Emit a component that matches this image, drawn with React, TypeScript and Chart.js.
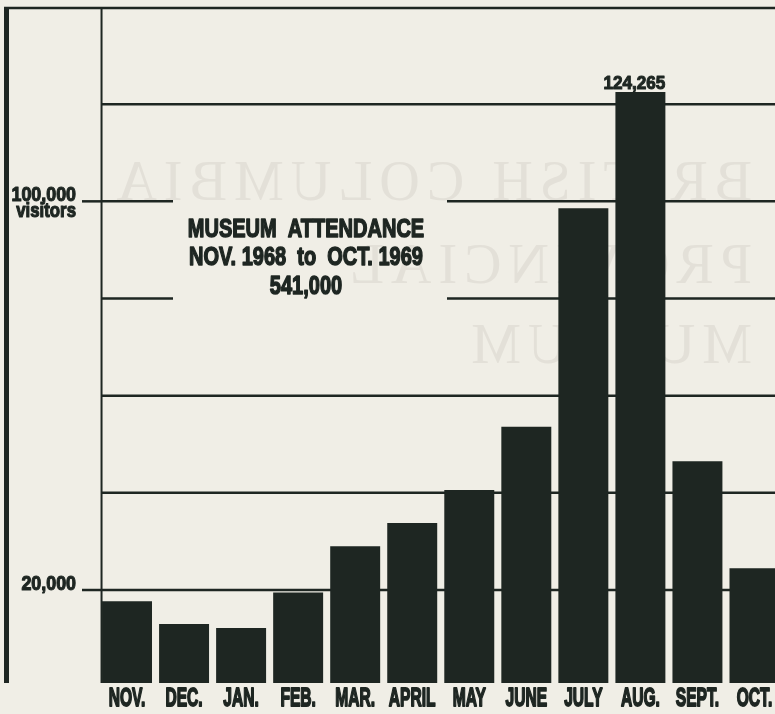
import { useEffect, useRef } from 'react';
import { Chart, registerables } from 'chart.js';

Chart.register(...registerables);

// ---------- data ----------
const months = ['NOV.', 'DEC.', 'JAN.', 'FEB.', 'MAR.', 'APRIL', 'MAY', 'JUNE', 'JULY', 'AUG.', 'SEPT.', 'OCT.'];
const visitors = [17700, 13000, 12200, 19500, 29000, 33800, 40600, 53600, 98600, 122500, 46500, 24500];
const gridValues = [20000, 40000, 60000, 80000, 100000, 120000, 140000];
const labeledTicks = [20000, 100000];
const tickLabels = [['20,000'], ['100,000', 'visitors']];
const titleGapValues = [80000, 100000];
const peakIndex = 9;
const peakLabel = '124,265';
const titleLines = ['MUSEUM  ATTENDANCE', 'NOV. 1968  to  OCT. 1969', '541,000'];
const ghostLines = ['BRITISH COLUMBIA', 'PROVINCIAL', 'MUSEUM'];

// ---------- style ----------
const W = 790;
const H = 714;
const PAPER = '#f0eee6';
const INK = '#1e2622';
const GHOST = '#e3e0d8';
const SANS = '"Liberation Sans", Arial, sans-serif';
const SERIF = '"Liberation Serif", "Times New Roman", serif';

function cText(
  ctx: CanvasRenderingContext2D,
  text: string,
  x: number,
  y: number,
  size: number,
  sx: number,
  align: CanvasTextAlign,
  bold = 1.4
) {
  ctx.save();
  ctx.font = `bold ${size}px ${SANS}`;
  ctx.textAlign = align;
  ctx.textBaseline = 'alphabetic';
  ctx.fillStyle = INK;
  ctx.strokeStyle = INK;
  ctx.lineWidth = bold;
  ctx.lineJoin = 'round';
  ctx.translate(x, y);
  ctx.scale(sx, 1);
  ctx.fillText(text, 0, 0);
  if (bold > 0) ctx.strokeText(text, 0, 0);
  ctx.restore();
}

const paperPlugin = {
  id: 'paper',
  beforeDraw(chart: any) {
    const { ctx, scales } = chart;
    const y = scales.y;
    const area = chart.chartArea;
    const meta = chart.getDatasetMeta(0);
    const first = meta.data[0];
    const axisX = first.x - first.width / 2 - 0.5;
    const topY = y.getPixelForValue(gridValues[gridValues.length - 1]);

    ctx.save();
    ctx.fillStyle = PAPER;
    ctx.fillRect(0, 0, W, H);

    // show-through ghost text (mirrored)
    ctx.fillStyle = GHOST;
    ctx.font = `56px ${SERIF}`;
    try {
      (ctx as any).letterSpacing = '7px';
    } catch (e) {}
    const ghostBase = [200, 283, 363];
    ghostLines.forEach((t, i) => {
      ctx.save();
      ctx.translate(752, ghostBase[i]);
      ctx.scale(-1, 1);
      ctx.textAlign = 'left';
      ctx.fillText(t, 0, 0);
      ctx.restore();
    });
    try {
      (ctx as any).letterSpacing = '0px';
    } catch (e) {}

    // grid lines
    ctx.strokeStyle = INK;
    ctx.lineWidth = 2.5;
    const titleCx = 306;
    const gapL = titleCx - 133;
    const gapR = titleCx + 141;
    gridValues.forEach((v, idx) => {
      const py = y.getPixelForValue(v) + (idx === gridValues.length - 1 ? 1 : 0);
      const segs: number[][] = [];
      const startX = idx === gridValues.length - 1 ? 4 : axisX;
      if (titleGapValues.includes(v)) {
        segs.push([startX, gapL], [gapR, W]);
      } else {
        segs.push([startX, W]);
      }
      if (labeledTicks.includes(v)) segs.push([82, axisX]);
      segs.forEach(([a, b]) => {
        ctx.beginPath();
        ctx.moveTo(a, py);
        ctx.lineTo(b, py);
        ctx.stroke();
      });
    });

    // value axis line
    ctx.lineWidth = 2;
    ctx.beginPath();
    ctx.moveTo(axisX, topY);
    ctx.lineTo(axisX, area.bottom);
    ctx.stroke();

    // thick left frame line
    ctx.fillStyle = INK;
    ctx.fillRect(4, topY, 5, area.bottom - topY);
    ctx.restore();
  },
  afterDatasetsDraw(chart: any) {
    const { ctx, scales } = chart;
    const x = scales.x;
    const y = scales.y;
    const meta = chart.getDatasetMeta(0);

    // month labels
    months.forEach((m, i) => {
      cText(ctx, m, x.getPixelForValue(i), 706, 26, 0.6, 'center', 1.8);
    });

    // tick labels
    labeledTicks.forEach((v, i) => {
      const py = y.getPixelForValue(v);
      const lines = tickLabels[i];
      cText(ctx, lines[0], 76, py - 0.5, 21, 0.85, 'right', 1.2);
      if (lines[1]) cText(ctx, lines[1], 76, py + 16, 21, 0.8, 'right', 1.2);
    });

    // peak value label
    const bar = meta.data[peakIndex];
    cText(ctx, peakLabel, bar.x + bar.width / 2, bar.y - 3, 19, 0.9, 'right', 1.1);

    // title block
    const titleBase = [237, 265, 294];
    titleLines.forEach((t, i) => {
      cText(ctx, t, 306, titleBase[i], 26.5, 0.755, 'center', 1.5);
    });
  },
};

export default function App() {
  const ref = useRef<HTMLCanvasElement>(null);
  useEffect(() => {
    document.body.style.margin = '0';
    document.body.style.background = PAPER;
    const canvas = ref.current!;
    const chart = new Chart(canvas, {
      type: 'bar',
      data: {
        labels: months,
        datasets: [
          {
            data: visitors,
            backgroundColor: INK,
            borderWidth: 0,
            barPercentage: 0.876,
            categoryPercentage: 1,
          },
        ],
      },
      options: {
        responsive: false,
        animation: false,
        devicePixelRatio: 1,
        events: [],
        layout: { padding: { left: 98.5, right: 7, top: 7, bottom: 31 } },
        plugins: {
          legend: { display: false },
          tooltip: { enabled: false },
          title: { display: false },
        },
        scales: {
          x: { display: false, offset: true },
          y: { display: false, min: 860, max: 140000 },
        },
      },
      plugins: [paperPlugin],
    } as any);
    return () => chart.destroy();
  }, []);
  return (
    <div style={{ width: 775, height: 714, overflow: 'hidden', position: 'relative', background: PAPER }}>
      <canvas ref={ref} width={W} height={H} style={{ display: 'block', width: W, height: H }} />
    </div>
  );
}
